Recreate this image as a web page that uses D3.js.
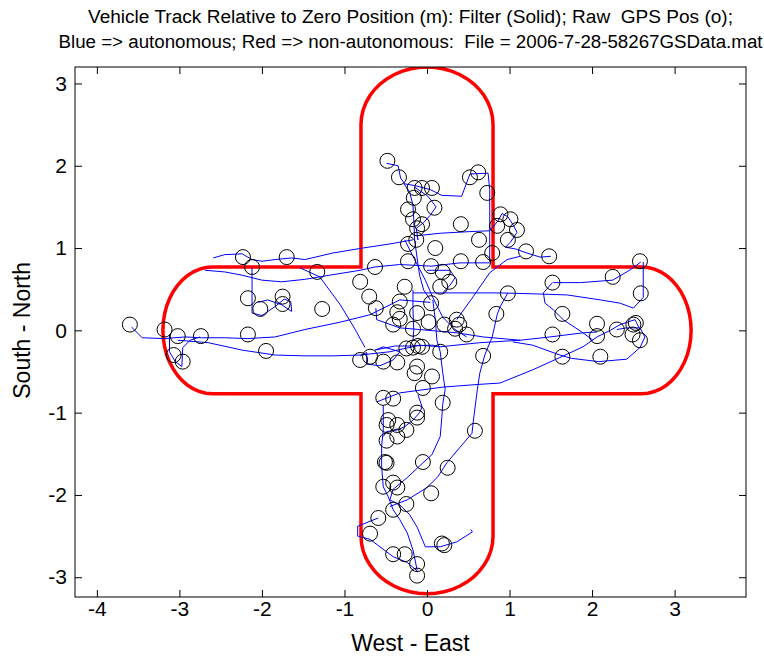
<!DOCTYPE html>
<html>
<head>
<meta charset="utf-8">
<script src="https://cdn.jsdelivr.net/npm/d3@7"></script>
<style>
  body { margin: 0; background: #fff; }
  svg { display: block; }
  text { font-family: "Liberation Sans", Arial, sans-serif; fill: #000; white-space: pre; }
</style>
</head>
<body>
<svg id="chart" width="764" height="658"></svg>
<script>
// ---- axis setup ----
const xTicks = [-4, -3, -2, -1, 0, 1, 2, 3];
const yTicks = [-3, -2, -1, 0, 1, 2, 3];
const xLimits = [-4.265, 3.865];
const yLimits = [-3.24, 3.2];

const titleLines = [
  "Vehicle Track Relative to Zero Position (m): Filter (Solid); Raw  GPS Pos (o);",
  "Blue => autonomous; Red => non-autonomous:  File = 2006-7-28-58267GSData.mat"
];
const xLabel = "West - East";
const yLabel = "South - North";

// ---- course boundary (cross shaped), metres ----
const vArmHalfWidth = 0.8;   // north/south arm
const hArmHalfWidth = 0.77;  // east/west arm
const armReach = 3.2;
const vCapDepth = 0.7;
const hCapDepth = 0.6;

// ---- raw GPS fixes (east, north) ----
const gpsEast = [
  -0.48, -0.34, -0.15, -0.06, 0.06, -0.16, 0.09, -0.23, -0.17, -0.06, -0.12, -0.13, -0.23, 0.10,
  0.41, 0.52, 0.62, 0.73, 0.63, 0.89, 1.01, 1.09, 0.85, 0.98, 1.20, 1.48, 2.58, 2.25,
  -2.23, -2.12, -1.70, -1.33, -0.63, -0.23, 0.05, 0.41, 0.68, 0.79, 0.19, 0.27, 0.16,
  -0.81, -0.27, -0.70, -0.33, 0.05, 0.98, -1.27, -0.62, -0.36, -0.12, -0.41, -0.33, -0.17,
  0.02, 0.21, 0.36, 0.39, 0.34, 0.48, 0.84, -0.25, -0.17, -0.11, -0.06, 0.16, -0.81, -0.69,
  -0.53, -0.36, -0.12, -0.15, 0.06, -0.05, 0.68, 0.19, -0.53, -0.41, -0.12, -0.47,
  1.52, 2.59, 1.64, 2.06, 2.30, 2.50, 2.49, 2.58, 2.53, 1.52, 2.06, 1.64, 2.10,
  -3.60, -3.18, -3.02, -2.74, -3.07, -2.96, -2.17, -2.02, -1.75, -1.75, -2.17, -1.95,
  -0.12, -0.49, -0.36, -0.25, -0.36, -0.49, 0.58, -0.51, -0.49, -0.05, 0.25, -0.41, -0.53,
  -0.36, 0.05, -0.25, -0.41, -0.59, -0.69, 0.18, 0.21, -0.41, -0.27, -0.12, -0.12
];
const gpsNorth = [
  2.06, 1.86, 1.73, 1.73, 1.73, 1.61, 1.49, 1.47, 1.35, 1.29, 1.24, 1.10, 1.05, 1.00,
  1.29, 1.86, 1.92, 1.67, 1.10, 1.41, 1.35, 1.22, 1.27, 1.10, 0.96, 0.90, 0.84, 0.65,
  0.89, 0.77, 0.89, 0.71, 0.77, 0.84, 0.78, 0.84, 0.83, 0.94, 0.71, 0.59, 0.53,
  0.59, 0.53, 0.41, 0.35, 0.33, 0.45, 0.26, 0.27, 0.22, 0.21, 0.07, 0.14, 0.02,
  0.10, 0.07, 0.13, 0.07, 0.02, -0.05, 0.20, -0.22, -0.21, -0.19, -0.20, -0.26, -0.36, -0.32,
  -0.38, -0.39, -0.44, -0.52, -0.56, -0.70, -0.31, -0.88, -0.82, -0.83, -1.00, -1.09,
  0.58, 0.45, 0.20, 0.08, 0.01, 0.07, -0.05, -0.12, 0.09, -0.05, -0.07, -0.32, -0.32,
  0.07, 0.01, -0.07, -0.07, -0.30, -0.38, 0.39, 0.26, 0.41, 0.32, -0.05, -0.25,
  -1.06, -1.15, -1.15, -1.21, -1.29, -1.34, -1.22, -1.60, -1.61, -1.60, -1.67, -1.85, -1.90,
  -1.91, -1.98, -2.11, -2.18, -2.28, -2.47, -2.59, -2.61, -2.72, -2.72, -2.84, -2.98
];

// ---- filtered track, as runs of (east, north) ----
const filterTracks = [
  [[-0.49,2.03],[-0.35,2.0],[-0.32,1.85],[-0.27,1.78],[-0.15,1.76],[0.04,1.71],[0.18,1.64],[0.42,1.63],[0.52,1.9],[0.74,1.91],[0.76,1.71],[0.76,0.83]],
  [[-0.28,1.78],[-0.21,1.68],[-0.17,1.52],[-0.16,1.34],[-0.15,1.1],[-0.12,0.88],[-0.09,0.67],[-0.04,0.49],[0.04,0.37]],
  [[-0.15,1.74],[0.01,1.63],[0.11,1.5],[0.04,1.4],[-0.04,1.31],[-0.13,1.24],[-0.11,1.1],[-0.12,1.15],[0.16,1.18],[0.52,1.2],[0.76,1.21]],
  [[-2.59,0.88],[-2.45,0.92],[-2.24,0.93],[-2.12,0.86],[-2.0,0.84],[-1.84,0.86],[-1.64,0.88],[-1.48,0.86],[-1.14,0.94],[-0.78,1.0],[-0.45,1.05],[-0.17,1.1]],
  [[0.76,1.21],[0.86,1.33],[0.91,1.42],[0.98,1.38],[1.05,1.27],[1.09,1.19],[1.01,1.07],[0.95,1.01],[1.07,0.99],[1.21,0.94],[1.37,0.89],[1.5,0.9]],
  [[-2.69,0.73],[-2.45,0.71],[-2.24,0.67],[-2.0,0.61],[-1.76,0.59],[-1.48,0.62],[-1.18,0.67],[-0.81,0.73],[-0.63,0.77],[-0.33,0.8],[0.05,0.78],[0.4,0.82],[0.76,0.82]],
  [[-2.12,0.76],[-2.12,0.49],[-2.12,0.21],[-2.0,0.18],[-1.84,0.29],[-1.73,0.38],[-1.65,0.35],[-1.64,0.23],[-1.76,0.31],[-1.93,0.37],[-2.05,0.34]],
  [[-3.58,0.04],[-3.45,-0.09],[-3.18,-0.1],[-2.93,-0.08],[-2.73,-0.09],[-2.45,-0.09],[-2.17,-0.1],[-1.84,-0.08],[-1.48,0.01],[-1.05,0.1],[-0.69,0.19],[-0.33,0.37],[0.04,0.34]],
  [[-3.02,-0.12],[-2.65,-0.15],[-2.24,-0.24],[-1.84,-0.3],[-1.48,-0.31],[-1.14,-0.31],[-0.81,-0.3],[-0.45,-0.26],[-0.09,-0.18],[0.16,-0.2],[0.64,-0.15],[1.13,-0.12],[1.49,-0.08],[1.89,-0.03],[2.06,-0.02]],
  [[-3.12,-0.05],[-3.12,-0.26],[-3.05,-0.38],[-2.97,-0.44],[-2.96,-0.21],[-2.87,-0.12],[-2.75,-0.08]],
  [[-1.54,0.76],[-1.3,0.65],[-1.05,0.31],[-0.87,0.01],[-0.75,-0.21]],
  [[-0.17,0.455],[0.28,0.455],[0.885,0.455],[1.41,0.44],[1.7,0.43],[2.1,0.37],[2.34,0.33],[2.5,0.27],[2.62,0.4],[2.62,0.83]],
  [[1.53,0.58],[1.86,0.58],[2.25,0.61],[2.47,0.74],[2.59,0.83]],
  [[1.04,-0.14],[1.28,-0.18],[1.61,-0.3],[1.75,-0.34],[2.08,-0.38],[2.42,-0.35],[2.58,-0.21],[2.64,-0.08],[2.58,0.03],[2.42,0.03],[2.3,0.01]],
  [[-0.61,-0.87],[-0.33,-0.76],[0.19,-0.69],[0.58,-0.66],[0.885,-0.64],[1.28,-0.48],[1.61,-0.33],[1.89,-0.2],[2.06,-0.08],[2.22,0.0],[2.34,0.07],[2.52,0.13],[2.58,0.01]],
  [[1.52,0.58],[1.41,0.455],[1.43,0.33],[1.53,0.25],[1.65,0.13],[1.89,-0.03],[2.01,-0.12]],
  [[0.98,0.455],[0.885,0.285],[0.85,0.19],[0.79,-0.08],[0.7,-0.3],[0.64,-0.52],[0.61,-0.72],[0.57,-1.03],[0.545,-1.25],[0.4,-1.42],[0.24,-1.61],[0.13,-1.78],[0.0,-1.91],[-0.24,-2.06],[-0.45,-2.14]],
  [[0.19,-0.9],[0.18,-1.05],[0.16,-1.29],[0.06,-1.51],[-0.05,-1.61],[-0.24,-1.79],[-0.41,-1.93],[-0.45,-2.06],[-0.33,-2.12],[-0.21,-2.24],[-0.12,-2.39],[-0.02,-2.63],[0.16,-2.63],[0.36,-2.57],[0.55,-2.45],[0.53,-2.42]],
  [[-0.53,-0.91],[-0.53,-1.21],[-0.55,-1.41],[-0.55,-1.65],[-0.53,-1.9],[-0.47,-2.02],[-0.41,-2.18],[-0.33,-2.3],[-0.24,-2.46],[-0.17,-2.67],[-0.12,-2.91]],
  [[-0.59,-2.28],[-0.84,-2.38],[-0.84,-2.5],[-0.69,-2.54],[-0.57,-2.63],[-0.41,-2.75],[-0.24,-2.82],[-0.11,-2.93]],
  [[-0.11,-0.78],[-0.06,-0.93],[-0.09,-1.0],[-0.17,-1.09],[-0.27,-1.17],[-0.36,-1.21],[-0.49,-1.23],[-0.53,-1.29]],
  [[0.07,0.37],[0.1,0.13],[0.12,-0.12],[0.16,-0.26],[0.19,-0.51],[0.22,-0.72],[0.19,-0.9]],
  [[-0.81,-0.31],[-0.73,-0.27],[-0.73,-0.41],[-0.57,-0.43],[-0.41,-0.36],[-0.33,-0.26],[-0.53,-0.2],[-0.63,-0.24],[-0.39,-0.19],[-0.21,-0.19],[0.07,-0.18],[0.16,-0.2]],
  [[-0.17,0.49],[-0.17,0.25],[-0.16,0.0],[-0.17,-0.12]],
  [[0.0,0.73],[0.28,0.73],[0.34,0.64],[0.28,0.55],[0.19,0.455]],
  [[-0.62,0.27],[-0.61,0.13],[-0.33,0.03],[-0.09,0.01],[0.36,-0.03],[0.68,-0.08],[1.13,-0.12]],
  [[0.36,0.13],[0.56,0.41],[0.76,0.7],[0.97,0.86],[1.13,0.9]],
  [[-0.27,1.1],[-0.15,0.86],[-0.02,0.61],[0.07,0.4],[0.19,0.16],[0.34,0.01],[0.48,-0.08]]
];

// ---- drawing ----
const svg = d3.select("#chart");
const plot = { left: 75, right: 746, top: 67, bottom: 597 };

const x = d3.scaleLinear().domain(xLimits).range([plot.left, plot.right]);
const y = d3.scaleLinear().domain(yLimits).range([plot.bottom, plot.top]);

svg.append("defs").append("clipPath").attr("id", "plot-clip")
  .append("rect")
  .attr("x", plot.left).attr("y", plot.top)
  .attr("width", plot.right - plot.left).attr("height", plot.bottom - plot.top);

const data = svg.append("g").attr("clip-path", "url(#plot-clip)");

// boundary outline: straight arm edges joined by elliptical end caps
function capPoints(cx, cy, ax, ay, t0, t1, n) {
  const pts = [];
  for (let i = 0; i <= n; i++) {
    const t = t0 + (t1 - t0) * i / n;
    pts.push([cx + ax * Math.cos(t), cy + ay * Math.sin(t)]);
  }
  return pts;
}
const vw = vArmHalfWidth, hw = hArmHalfWidth;
const vEnd = armReach - vCapDepth, hEnd = armReach - hCapDepth;
const N = 24, PI = Math.PI;
const outline = [].concat(
  [[vw, hw], [hEnd, hw]],
  capPoints(hEnd, 0, hCapDepth, hw, PI / 2, -PI / 2, N),
  [[hEnd, -hw], [vw, -hw], [vw, -vEnd]],
  capPoints(0, -vEnd, vw, vCapDepth, 0, -PI, N),
  [[-vw, -vEnd], [-vw, -hw], [-hEnd, -hw]],
  capPoints(-hEnd, 0, hCapDepth, hw, -PI / 2, -3 * PI / 2, N),
  [[-hEnd, hw], [-vw, hw], [-vw, vEnd]],
  capPoints(0, vEnd, vw, vCapDepth, PI, 0, N),
  [[vw, vEnd], [vw, hw]]
);

const line = d3.line().x(d => x(d[0])).y(d => y(d[1]));

data.append("path")
  .attr("d", line(outline) + "Z")
  .attr("fill", "none")
  .attr("stroke", "#ff0000")
  .attr("stroke-width", 3.5)
  .attr("stroke-linejoin", "miter");

data.selectAll("path.track")
  .data(filterTracks)
  .join("path")
  .attr("class", "track")
  .attr("d", line)
  .attr("fill", "none")
  .attr("stroke", "#0000ff")
  .attr("stroke-width", 1);

const fixes = gpsEast.map((e, i) => ({ e, n: gpsNorth[i] }));
data.selectAll("circle.fix")
  .data(fixes)
  .join("circle")
  .attr("class", "fix")
  .attr("cx", d => x(d.e))
  .attr("cy", d => y(d.n))
  .attr("r", 7.5)
  .attr("fill", "none")
  .attr("stroke", "#000")
  .attr("stroke-width", 1);

// axes: inward ticks on all four sides, labels bottom and left
const fmt = d => String(d);
function styleAxis(g) {
  g.select(".domain").remove();
  g.selectAll(".tick line").attr("stroke", "#000");
  g.selectAll(".tick text").attr("font-size", 21).attr("fill", "#000")
    .attr("font-family", "'Liberation Sans', Arial, sans-serif");
}
svg.append("g").attr("transform", `translate(0,${plot.bottom})`)
  .call(d3.axisBottom(x).tickValues(xTicks).tickSize(-7).tickPadding(4).tickFormat(fmt))
  .call(styleAxis);
svg.append("g").attr("transform", `translate(0,${plot.top})`)
  .call(d3.axisTop(x).tickValues(xTicks).tickSize(-7).tickFormat(""))
  .call(styleAxis);
svg.append("g").attr("transform", `translate(${plot.left},0)`)
  .call(d3.axisLeft(y).tickValues(yTicks).tickSize(-7).tickPadding(8).tickFormat(fmt))
  .call(styleAxis);
svg.append("g").attr("transform", `translate(${plot.right},0)`)
  .call(d3.axisRight(y).tickValues(yTicks).tickSize(-7).tickFormat(""))
  .call(styleAxis);

svg.append("rect")
  .attr("x", plot.left).attr("y", plot.top)
  .attr("width", plot.right - plot.left).attr("height", plot.bottom - plot.top)
  .attr("fill", "none").attr("stroke", "#000").attr("stroke-width", 1);

// titles and labels
const cx = (plot.left + plot.right) / 2;
const titleWidths = [645, 704];
svg.selectAll("text.title")
  .data(titleLines)
  .join("text")
  .attr("class", "title")
  .attr("x", cx)
  .attr("y", (d, i) => 23 + i * 25)
  .attr("text-anchor", "middle")
  .attr("font-size", 18)
  .attr("xml:space", "preserve")
  .attr("textLength", (d, i) => titleWidths[i])
  .attr("lengthAdjust", "spacingAndGlyphs")
  .text(d => d);

svg.append("text")
  .attr("x", cx).attr("y", 651)
  .attr("text-anchor", "middle")
  .attr("font-size", 23)
  .text(xLabel);

svg.append("text")
  .attr("transform", `translate(30,${y(0)}) rotate(-90)`)
  .attr("text-anchor", "middle")
  .attr("font-size", 23)
  .text(yLabel);
</script>
</body>
</html>
